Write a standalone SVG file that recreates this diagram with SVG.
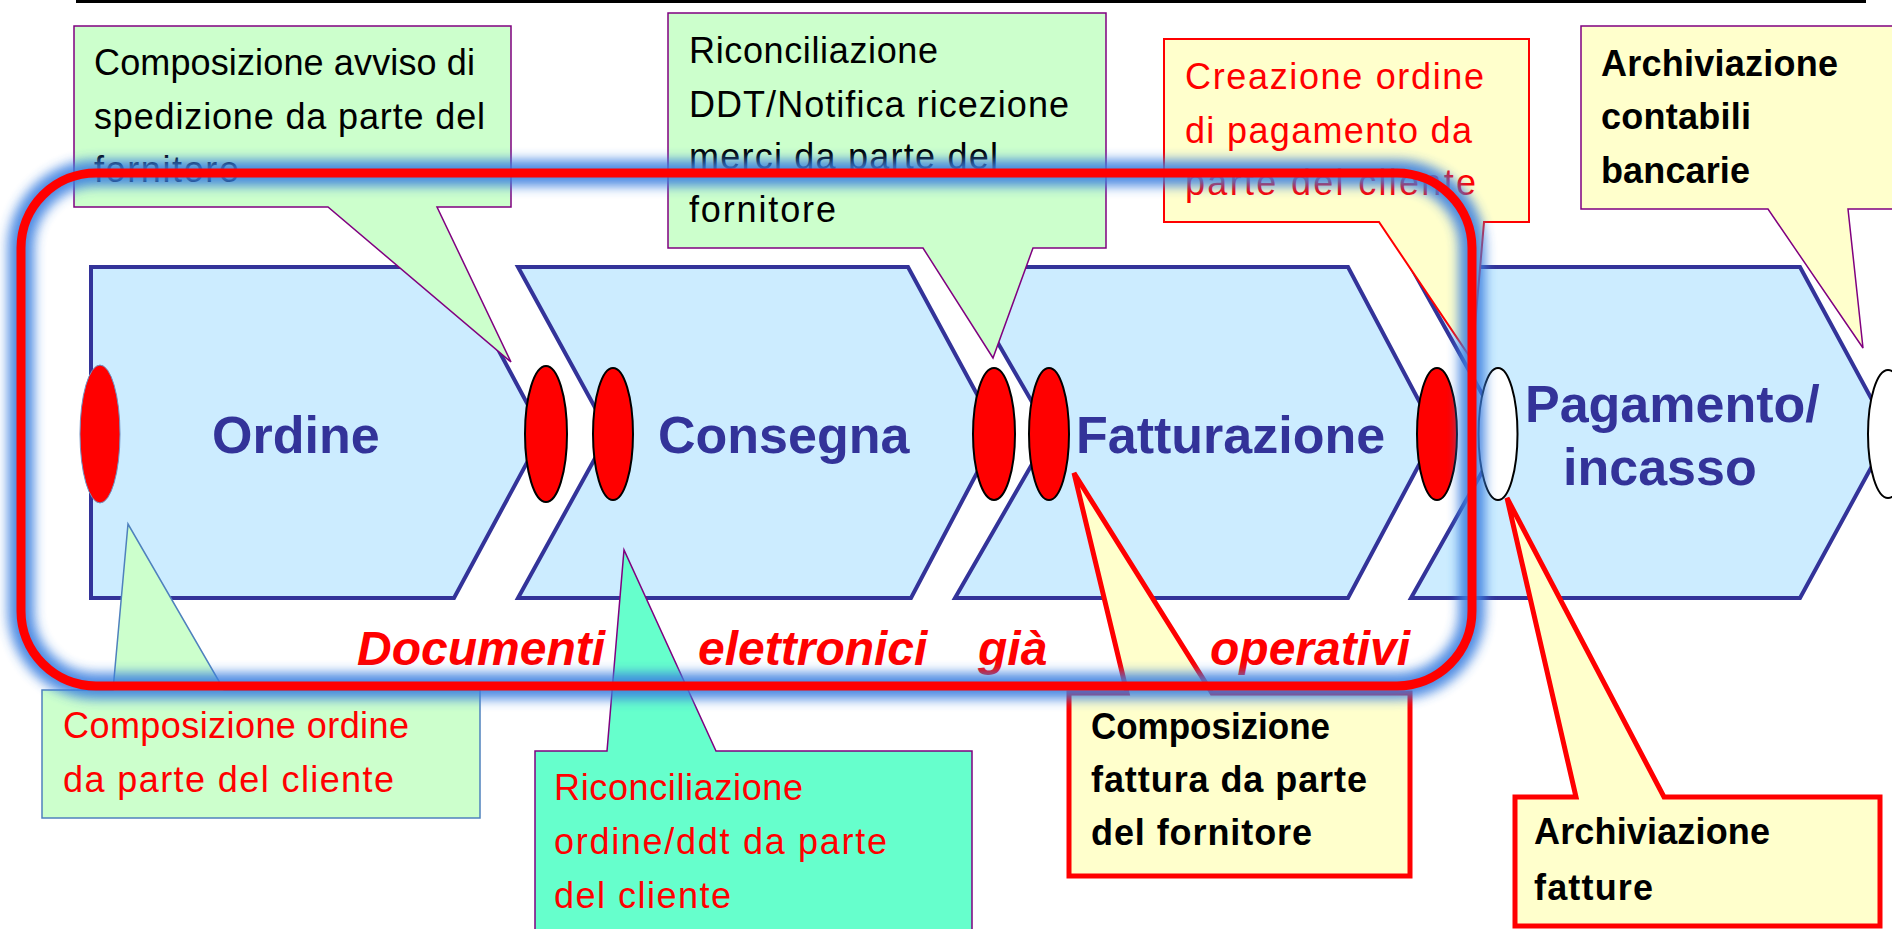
<svg xmlns="http://www.w3.org/2000/svg" width="1892" height="929" viewBox="0 0 1892 929">
<style>
.chev{fill:#CCECFF;stroke:#333399;stroke-width:4;stroke-linejoin:miter}
.dotR{fill:#FF0000;stroke:#000;stroke-width:2}
.dotW{fill:#FFFFFF;stroke:#000;stroke-width:2}
.lbl{font-family:"Liberation Sans",Arial,sans-serif;font-weight:bold;font-size:52px;fill:#333399}
.it{font-family:"Liberation Sans",Arial,sans-serif;font-weight:bold;font-style:italic;font-size:48px;fill:#FF0000}
.ct{font-family:"Liberation Sans",Arial,sans-serif;font-size:36px;fill:#000}
.ctb{font-family:"Liberation Sans",Arial,sans-serif;font-size:36px;font-weight:bold;fill:#000}
.red{fill:#FF0000}
.green{fill:#CCFFCC;stroke:#800080;stroke-width:1.5}
.greenB{fill:#CCFFCC;stroke:#4F81BD;stroke-width:1.5}
.teal{fill:#66FFCC;stroke:#800080;stroke-width:1.5}
.yelP{fill:#FFFFCC;stroke:#800080;stroke-width:1.5}
.yelR{fill:#FFFFCC;stroke:#FF0000;stroke-width:2}
.yelRT{fill:#FFFFCC;stroke:#FF0000;stroke-width:5}
</style>
<defs>
<filter id="glow" x="-10%" y="-10%" width="120%" height="120%">
<feGaussianBlur stdDeviation="6"/>
</filter>
</defs>
<rect width="1892" height="929" fill="#FFFFFF"/>
<line x1="76" y1="1.5" x2="1866" y2="1.5" stroke="#000" stroke-width="3"/>

<g id="chevron-ordine">
<polygon class="chev" points="91,267 454,267 543,433 454,598 91,598"/>
</g>
<g id="chevron-consegna">
<polygon class="chev" points="518,267 908,267 998,433 911,598 518,598 609,433"/>
</g>
<g id="chevron-fatturazione">
<polygon class="chev" points="954,267 1348,267 1436,433 1348,598 955,598 1050,433"/>
</g>
<g id="chevron-pagamento">
<polygon class="chev" points="1411,267 1800,267 1890,433 1800,598 1411,598 1504,433"/>
</g>

<g id="events">
<ellipse cx="100" cy="434" rx="20" ry="69" fill="#FF0000" stroke="#6F8FC0" stroke-width="1"/>
<ellipse class="dotR" cx="546" cy="434" rx="21" ry="68"/>
<ellipse class="dotR" cx="613" cy="434" rx="20" ry="66"/>
<ellipse class="dotR" cx="994" cy="434" rx="21" ry="66"/>
<ellipse class="dotR" cx="1049" cy="434" rx="20" ry="66"/>
<ellipse class="dotR" cx="1437" cy="434" rx="20" ry="66"/>
<ellipse class="dotW" cx="1498" cy="434" rx="19.5" ry="66"/>
<ellipse class="dotW" cx="1888" cy="434" rx="20" ry="64"/>
</g>

<g id="labels">
<text class="lbl" x="212" y="453">Ordine</text>
<text class="lbl" x="658" y="453">Consegna</text>
<text class="lbl" x="1076" y="453">Fatturazione</text>
<text class="lbl" x="1525" y="422">Pagamento/</text>
<text class="lbl" x="1563" y="485">incasso</text>
</g>

<g id="callout-avviso">
<polygon class="green" points="74,26 511,26 511,207 437,207 511,362 328,207 74,207"/>
<text class="ct" x="94" y="75" textLength="381">Composizione avviso di</text>
<text class="ct" x="94" y="129" textLength="391">spedizione da parte del</text>
<text class="ct" x="94" y="182" textLength="145">fornitore</text>
</g>

<g id="callout-ddt">
<polygon class="green" points="668,13 1106,13 1106,248 1033,248 993,358 923,248 668,248"/>
<text class="ct" x="689" y="63" textLength="249">Riconciliazione</text>
<text class="ct" x="689" y="117" textLength="380">DDT/Notifica ricezione</text>
<text class="ct" x="689" y="169" textLength="309">merci da parte del</text>
<text class="ct" x="689" y="222" textLength="147">fornitore</text>
</g>

<g id="callout-ordine-pagamento">
<polygon class="yelR" points="1164,39 1529,39 1529,222 1484,222 1472,360 1379,222 1164,222"/>
<text class="ct red" x="1185" y="89" textLength="299">Creazione ordine</text>
<text class="ct red" x="1185" y="143" textLength="287">di pagamento da</text>
<text class="ct red" x="1185" y="195" textLength="291">parte del cliente</text>
</g>

<g id="callout-archiviazione-contabili">
<polygon class="yelP" points="1581,26 1896,26 1896,209 1848,209 1863,348 1768,209 1581,209"/>
<text class="ctb" x="1601" y="76" textLength="237">Archiviazione</text>
<text class="ctb" x="1601" y="129" textLength="150">contabili</text>
<text class="ctb" x="1601" y="183" textLength="149">bancarie</text>
</g>

<g id="callout-composizione-ordine">
<polygon class="greenB" points="42,690 113,690 128,524 224,690 480,690 480,818 42,818"/>
<text class="ct red" x="63" y="738" textLength="346">Composizione ordine</text>
<text class="ct red" x="63" y="792" textLength="331">da parte del cliente</text>
</g>

<g id="callout-riconciliazione-ordine">
<polygon class="teal" points="535,751 607,751 624,550 716,751 972,751 972,935 535,935"/>
<text class="ct red" x="554" y="800" textLength="249">Riconciliazione</text>
<text class="ct red" x="554" y="854" textLength="333">ordine/ddt da parte</text>
<text class="ct red" x="554" y="908" textLength="177">del cliente</text>
</g>

<g id="callout-fattura">
<polygon class="yelRT" points="1069,693 1127,693 1074,473 1212,693 1410,693 1410,876 1069,876"/>
<text class="ctb" x="1091" y="739" textLength="239" lengthAdjust="spacingAndGlyphs">Composizione</text>
<text class="ctb" x="1091" y="792" textLength="276">fattura da parte</text>
<text class="ctb" x="1091" y="845" textLength="221">del fornitore</text>
</g>

<g id="callout-archiviazione-fatture">
<polygon class="yelRT" points="1515,797 1576,797 1507,498 1664,797 1880,797 1880,926 1515,926"/>
<text class="ctb" x="1534" y="844" textLength="236">Archiviazione</text>
<text class="ctb" x="1534" y="900" textLength="119">fatture</text>
</g>

<g id="caption">
<text class="it" x="357" y="665">Documenti</text>
<text class="it" x="698" y="665">elettronici</text>
<text class="it" x="978" y="665">già</text>
<text class="it" x="1210" y="665">operativi</text>
</g>

<g id="electronic-frame">
<rect x="21" y="173" width="1451" height="513" rx="75" ry="75" fill="none" stroke="#3A7FE0" stroke-width="26" opacity="0.9" filter="url(#glow)"/>
<rect x="21" y="173" width="1451" height="513" rx="75" ry="75" fill="none" stroke="#FF0000" stroke-width="9"/>
</g>

<g id="connectors"></g>
</svg>
